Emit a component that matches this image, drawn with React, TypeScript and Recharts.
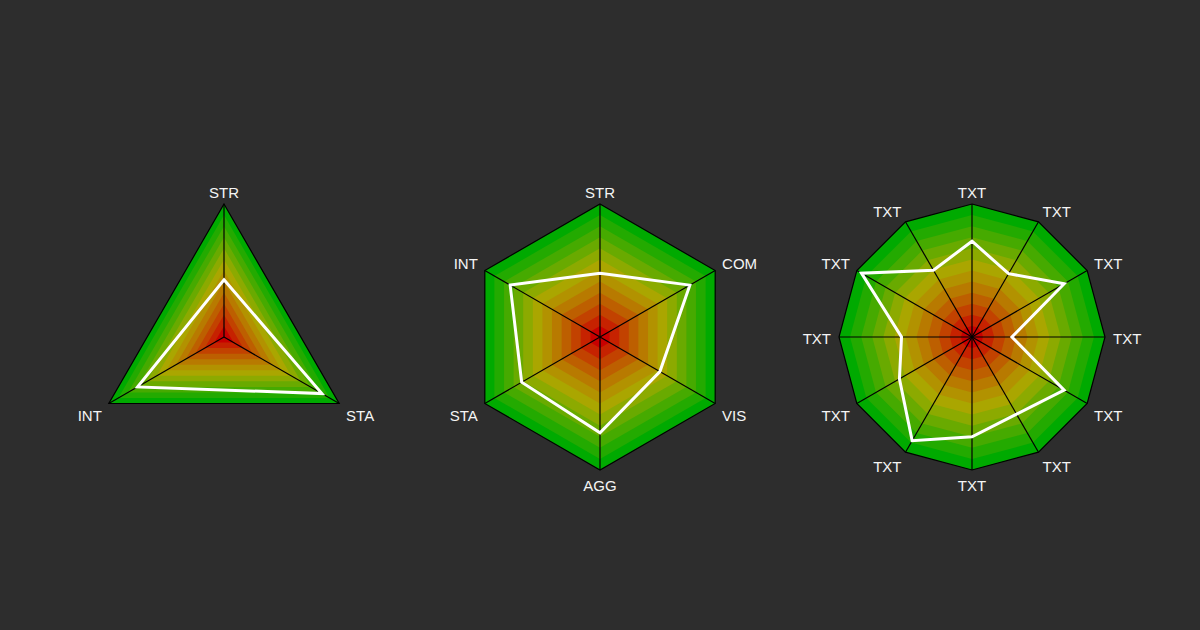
import { RadarChart, Radar, PolarGrid, PolarAngleAxis, PolarRadiusAxis } from "recharts";

// axes go clockwise from the top
const triAxes = ["STR", "STA", "INT"];
const triValues = [43, 85, 75];

const hexAxes = ["STR", "COM", "VIS", "AGG", "STA", "INT"];
const hexValues = [48, 78, 52, 72, 68, 78];

const dodecaAxes = ["TXT", "TXT", "TXT", "TXT", "TXT", "TXT", "TXT", "TXT", "TXT", "TXT", "TXT", "TXT"];
const dodecaValues = [72, 55, 80, 30, 80, 67, 75, 90, 63, 53, 96, 58];

// filled rings, outer (green) to inner (red)
const bandLevels = [100, 91.7, 83.3, 75, 66.7, 58.3, 50, 41.7, 33.3, 25, 16.7, 8.3];
const bandColors = [
  "#00aa00", "#23aa00", "#46aa00", "#69aa00", "#8caa00", "#aaa600",
  "#b29200", "#b87a00", "#bd5f00", "#c24200", "#c62200", "#c80000",
];

const SIZE = 400;
const OUTER_R = 133;
const CENTER_Y = 337;
const FONT = '"Liberation Sans", Arial, sans-serif';

function AxisTick(props: any) {
  const { x, y, payload, textAnchor, labels } = props;
  const sin = Math.sin((payload.coordinate * Math.PI) / 180);
  const dy = sin > 0.01 ? 2 : sin < -0.01 ? 13 : 7;
  return (
    <text x={x} y={y + dy} textAnchor={textAnchor} fill="#f5f5f5" fontSize={15} fontFamily={FONT}>
      {labels[Number(payload.value)]}
    </text>
  );
}

function SpiderChart({ axes, values, centerX }: { axes: string[]; values: number[]; centerX: number }) {
  const data = axes.map((axis, i) => ({ id: String(i), axis, value: values[i] }));
  const pos = {
    position: "absolute" as const,
    left: centerX - SIZE / 2,
    top: CENTER_Y - SIZE / 2,
    width: SIZE,
    height: SIZE,
  };

  return (
    <>
      <div style={pos}>
        <RadarChart width={SIZE} height={SIZE} data={data} outerRadius={OUTER_R} margin={{ top: 0, right: 0, bottom: 0, left: 0 }}>
          <PolarAngleAxis dataKey="id" tick={false} axisLine={false} tickLine={false} />
          <PolarRadiusAxis domain={[0, 100]} tick={false} axisLine={false} />
          {bandLevels.map((lvl, i) => (
            <Radar
              key={i}
              dataKey={() => lvl}
              fill={bandColors[i]}
              fillOpacity={1}
              stroke="none"
              isAnimationActive={false}
            />
          ))}
        </RadarChart>
      </div>
      <div style={pos}>
        <RadarChart width={SIZE} height={SIZE} data={data} outerRadius={OUTER_R} margin={{ top: 0, right: 0, bottom: 0, left: 0 }}>
          <PolarGrid gridType="polygon" polarRadius={[OUTER_R]} stroke="#000" strokeWidth={1.2} strokeOpacity={1} />
          <PolarAngleAxis
            dataKey="id"
            axisLine={false}
            tickLine={false}
            tick={(p: any) => <AxisTick {...p} labels={axes} />}
          />
          <PolarRadiusAxis domain={[0, 100]} tick={false} axisLine={false} />
          <Radar
            dataKey="value"
            stroke="#ffffff"
            strokeWidth={3}
            fill="none"
            fillOpacity={0}
            isAnimationActive={false}
          />
        </RadarChart>
      </div>
    </>
  );
}

export default function App() {
  return (
    <div
      style={{
        position: "absolute",
        left: 0,
        top: 0,
        width: 1200,
        height: 630,
        background: "#2d2d2d",
        overflow: "hidden",
      }}
    >
      <SpiderChart axes={triAxes} values={triValues} centerX={224} />
      <SpiderChart axes={hexAxes} values={hexValues} centerX={600} />
      <SpiderChart axes={dodecaAxes} values={dodecaValues} centerX={972} />
    </div>
  );
}
